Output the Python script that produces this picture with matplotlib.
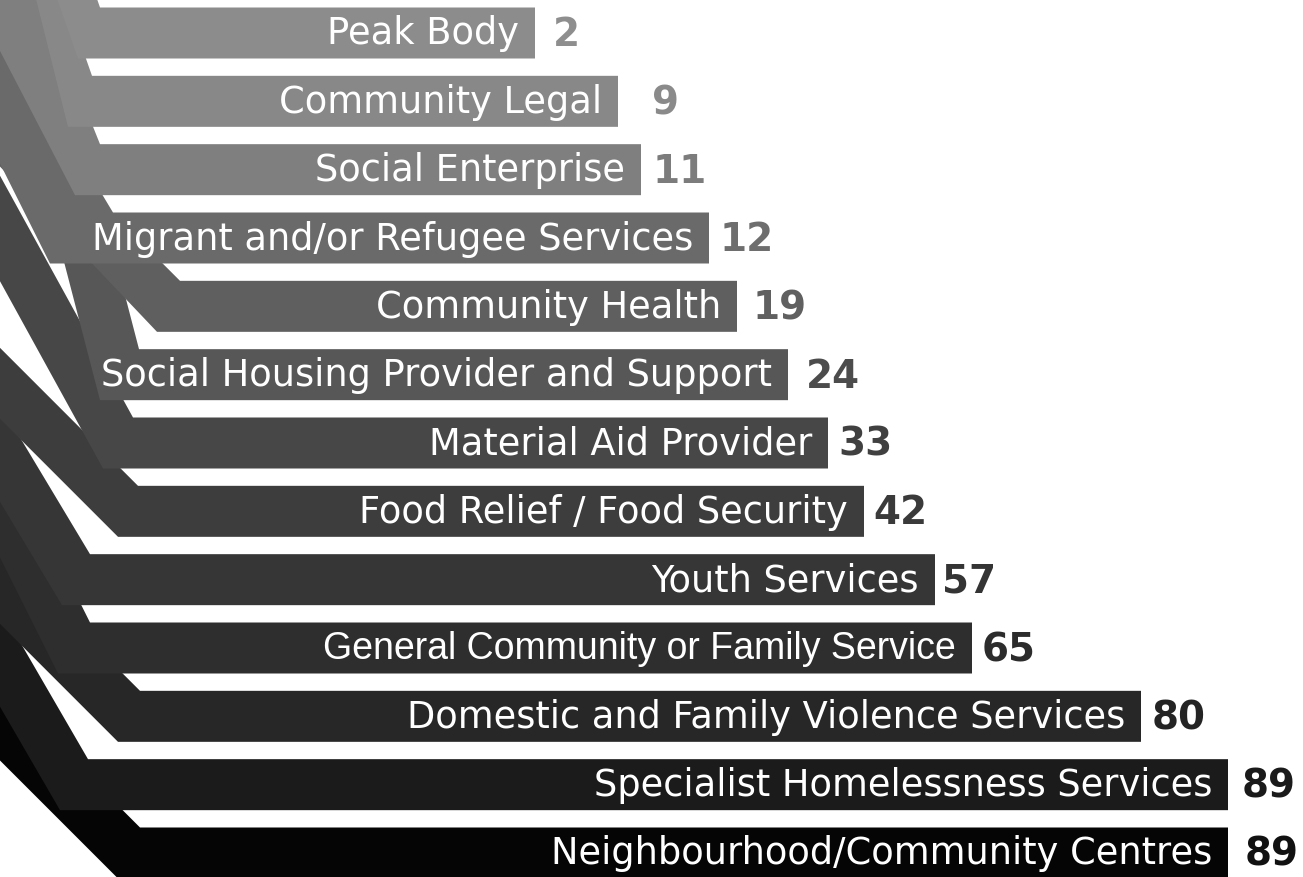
import matplotlib
matplotlib.use("Agg")
import matplotlib.pyplot as plt
from matplotlib.patches import Polygon

# ---------------- data ----------------
categories = [
    "Peak Body",
    "Community Legal",
    "Social Enterprise",
    "Migrant and/or Refugee Services",
    "Community Health",
    "Social Housing Provider and Support",
    "Material Aid Provider",
    "Food Relief / Food Security",
    "Youth Services",
    "General Community or Family Service",
    "Domestic and Family Violence Services",
    "Specialist Homelessness Services",
    "Neighbourhood/Community Centres",
]
values = [2, 9, 11, 12, 19, 24, 33, 42, 57, 65, 80, 89, 89]
# bar extents as drawn in the infographic (label-driven, not proportional)
bar_extent = [535, 618, 641, 709, 737, 788, 828, 864, 935, 972, 1141, 1228, 1228]

# ---------------- styling / layout ----------------
bar_colors = ["#8c8c8c", "#888888", "#7f7f7f", "#6a6a6a", "#5f5f5f", "#575757",
              "#474747", "#3d3d3d", "#363636", "#2e2e2e", "#272727", "#1b1b1b", "#050505"]
value_colors = ["#8e8e8e", "#8a8a8a", "#7c7c7c", "#6e6e6e", "#606060", "#4c4c4c",
                "#404040", "#3a3a3a", "#343434", "#2c2c2c", "#242424", "#1a1a1a", "#111111"]
value_pad = [18, 34, 12, 11, 16, 18, 10, 9, 7, 10, 11, 14, 17]
# ribbon fold: top-knee x, bottom-knee x, slope of upper edge, slope of lower edge
knee_top = [100, 92, 100, 113, 180, 139, 133, 138, 90, 90, 140, 88, 140]
knee_bot = [78, 68, 75, 50, 157, 100, 103, 118, 62, 58, 118, 60, 118]
slope_top = [0.35, 0.35, 0.40, 0.60, 1.00, 0.26, 0.55, 1.00, 0.60, 0.50, 1.00, 0.58, 1.00]
slope_bot = [0.35, 0.25, 0.52, 0.50, 0.95, 0.26, 0.55, 1.00, 0.60, 0.50, 1.00, 0.58, 1.00]

W, H = 1303, 877
fig = plt.figure(figsize=(W / 100, H / 100), dpi=100)
ax = fig.add_axes([0, 0, 1, 1])
ax.set_xlim(0, W)
ax.set_ylim(H, 0)
ax.axis("off")

y_first, pitch, half = 33, (853 - 33) / 12, 25.5
far = -150
n = len(categories)
for i in range(n - 1, -1, -1):
    yc = y_first + i * pitch
    yt, yb = yc - half, yc + half
    kt, kb, st, sb = knee_top[i], knee_bot[i], slope_top[i], slope_bot[i]
    verts = [
        (bar_extent[i], yt),
        (kt, yt),
        (kt - st * (yt - far), far),
        (kb - sb * (yb - far), far),
        (kb, yb),
        (bar_extent[i], yb),
    ]
    ax.add_patch(Polygon(verts, closed=True, facecolor=bar_colors[i],
                         edgecolor="none", zorder=10 + (n - i)))
    fam = ["DejaVu Sans"]
    fs = 26.5
    if categories[i].startswith("General"):
        fam = ["Liberation Sans", "DejaVu Sans"]
        fs = 27
    ax.text(bar_extent[i] - 16, yc + 1, categories[i], color="white",
            fontsize=fs, family=fam, ha="right", va="center",
            zorder=50)
    ax.text(bar_extent[i] + value_pad[i], yc + 2, str(values[i]), color=value_colors[i],
            fontsize=28, fontweight="bold", family=["DejaVu Sans"],
            ha="left", va="center", zorder=50)

fig.savefig("out.png", dpi=100, facecolor="white")
